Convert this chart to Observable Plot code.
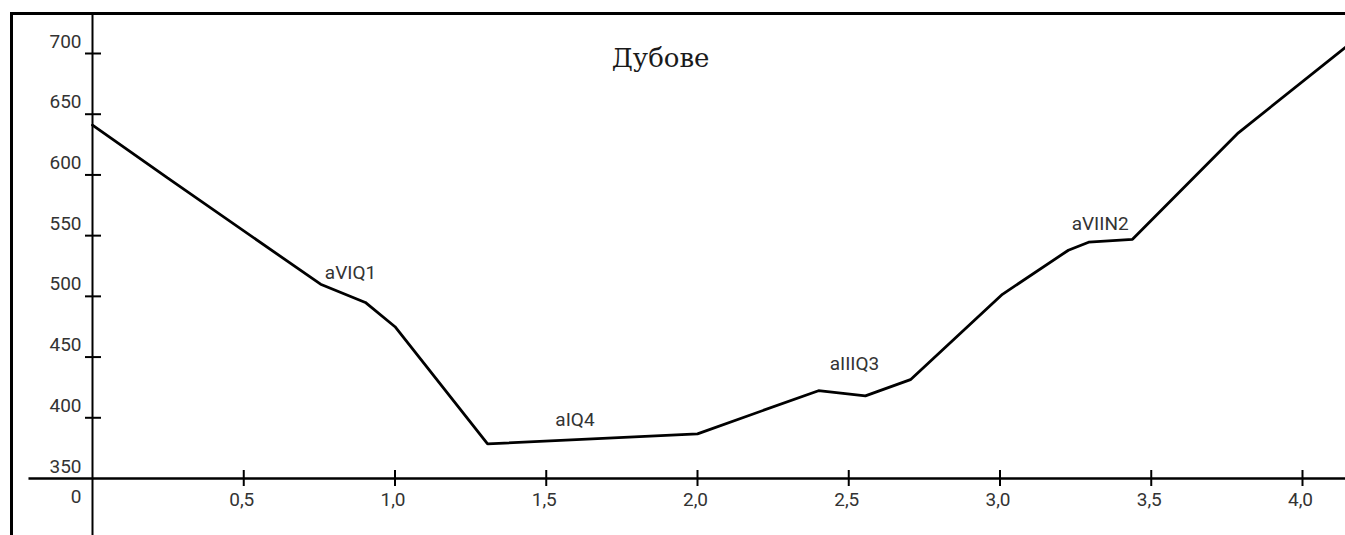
<!DOCTYPE html>
<html>
<head>
<meta charset="utf-8">
<script src="https://cdn.jsdelivr.net/npm/d3@7"></script>
<script src="https://cdn.jsdelivr.net/npm/@observablehq/plot@0.6"></script>
<style>
  html, body { margin: 0; padding: 0; background: #fff; }
  #chart svg { display: block; }
</style>
</head>
<body>
<div id="chart"></div>
<script>
// ---- data ----
const title = "Дубове";
const distanceKm = [0, 0.248, 0.754, 0.902, 1.0, 1.306, 2.0, 2.40, 2.555, 2.704, 3.008, 3.226, 3.293, 3.438, 3.788, 4.142];
const elevationM = [641, 597.5, 510, 495, 475, 378.5, 386.8, 422.3, 418, 431.4, 501.7, 538, 544.6, 547, 634.7, 705];

const terraceLabels = ["aVIQ1", "aIQ4", "aIIIQ3", "aVIIN2"];
const terraceX = [0.853, 1.595, 2.519, 3.331];
const terraceY = [519, 398.3, 444.6, 559.5];

const xTicks = [0.5, 1.0, 1.5, 2.0, 2.5, 3.0, 3.5, 4.0];
const xTickLabels = ["0,5", "1,0", "1,5", "2,0", "2,5", "3,0", "3,5", "4,0"];
const yTicks = [400, 450, 500, 550, 600, 650, 700];
const yTickLabels = ["350", "400", "450", "500", "550", "600", "650", "700"];
const yLabelValues = [350, 400, 450, 500, 550, 600, 650, 700];
const originLabel = "0";

// ---- build ----
const profile = distanceKm.map((d, i) => ({x: d, y: elevationM[i]}));
const terraces = terraceLabels.map((t, i) => ({text: t, x: terraceX[i], y: terraceY[i]}));
const yLabs = yLabelValues.map((v, i) => ({y: v, text: yTickLabels[i]}));
const xLabs = xTicks.map((v, i) => ({x: v, text: xTickLabels[i]}));
const baseY = 350;

const chart = Plot.plot({
  width: 1345,
  height: 535,
  marginLeft: 11,
  marginTop: 13,
  marginRight: -10,
  marginBottom: -10,
  x: {domain: [0, 4], range: [92, 1302], axis: null},
  y: {domain: [350, 700], range: [478, 53], axis: null},
  style: {fontFamily: "Roboto, sans-serif", fontSize: "19px", background: "#fff", overflow: "hidden"},
  marks: [
    Plot.frame({stroke: "#000", strokeWidth: 3}),
    // y axis line
    Plot.ruleX([0], {stroke: "#000", strokeWidth: 2}),
    // x axis line
    Plot.ruleY([baseY], {x1: -0.21, x2: 4.3, stroke: "#000", strokeWidth: 2.5}),
    // y ticks
    Plot.ruleY(yTicks, {y: d => d, x1: 0, x2: 0, insetLeft: -7, insetRight: -9, stroke: "#000", strokeWidth: 2}),
    // x ticks
    Plot.ruleX(xTicks, {x: d => d, y1: baseY, y2: baseY, insetTop: -8, insetBottom: -8, stroke: "#000", strokeWidth: 2}),
    // y labels
    Plot.text(yLabs, {x: 0, y: "y", text: "text", textAnchor: "end", dx: -11, dy: -12, fill: "#333", fontSize: 19}),
    Plot.text([originLabel], {x: 0, y: baseY, text: d => d, textAnchor: "end", dx: -11, dy: 18, fill: "#333", fontSize: 19}),
    // x labels
    Plot.text(xLabs, {x: "x", y: baseY, text: "text", dx: -2, dy: 21, fill: "#333", fontSize: 19}),
    // profile
    Plot.line(profile, {x: "x", y: "y", stroke: "#000", strokeWidth: 2.8, strokeLinejoin: "miter"}),
    // terrace annotations
    Plot.text(terraces, {x: "x", y: "y", text: "text", fill: "#333", fontSize: 19}),
    // title
    Plot.text([title], {x: 1.878, y: 696, text: d => d, fontFamily: "DejaVu Serif", fontSize: 26, fill: "#1a1a1a"})
  ]
});
document.getElementById("chart").appendChild(chart);
</script>
</body>
</html>
